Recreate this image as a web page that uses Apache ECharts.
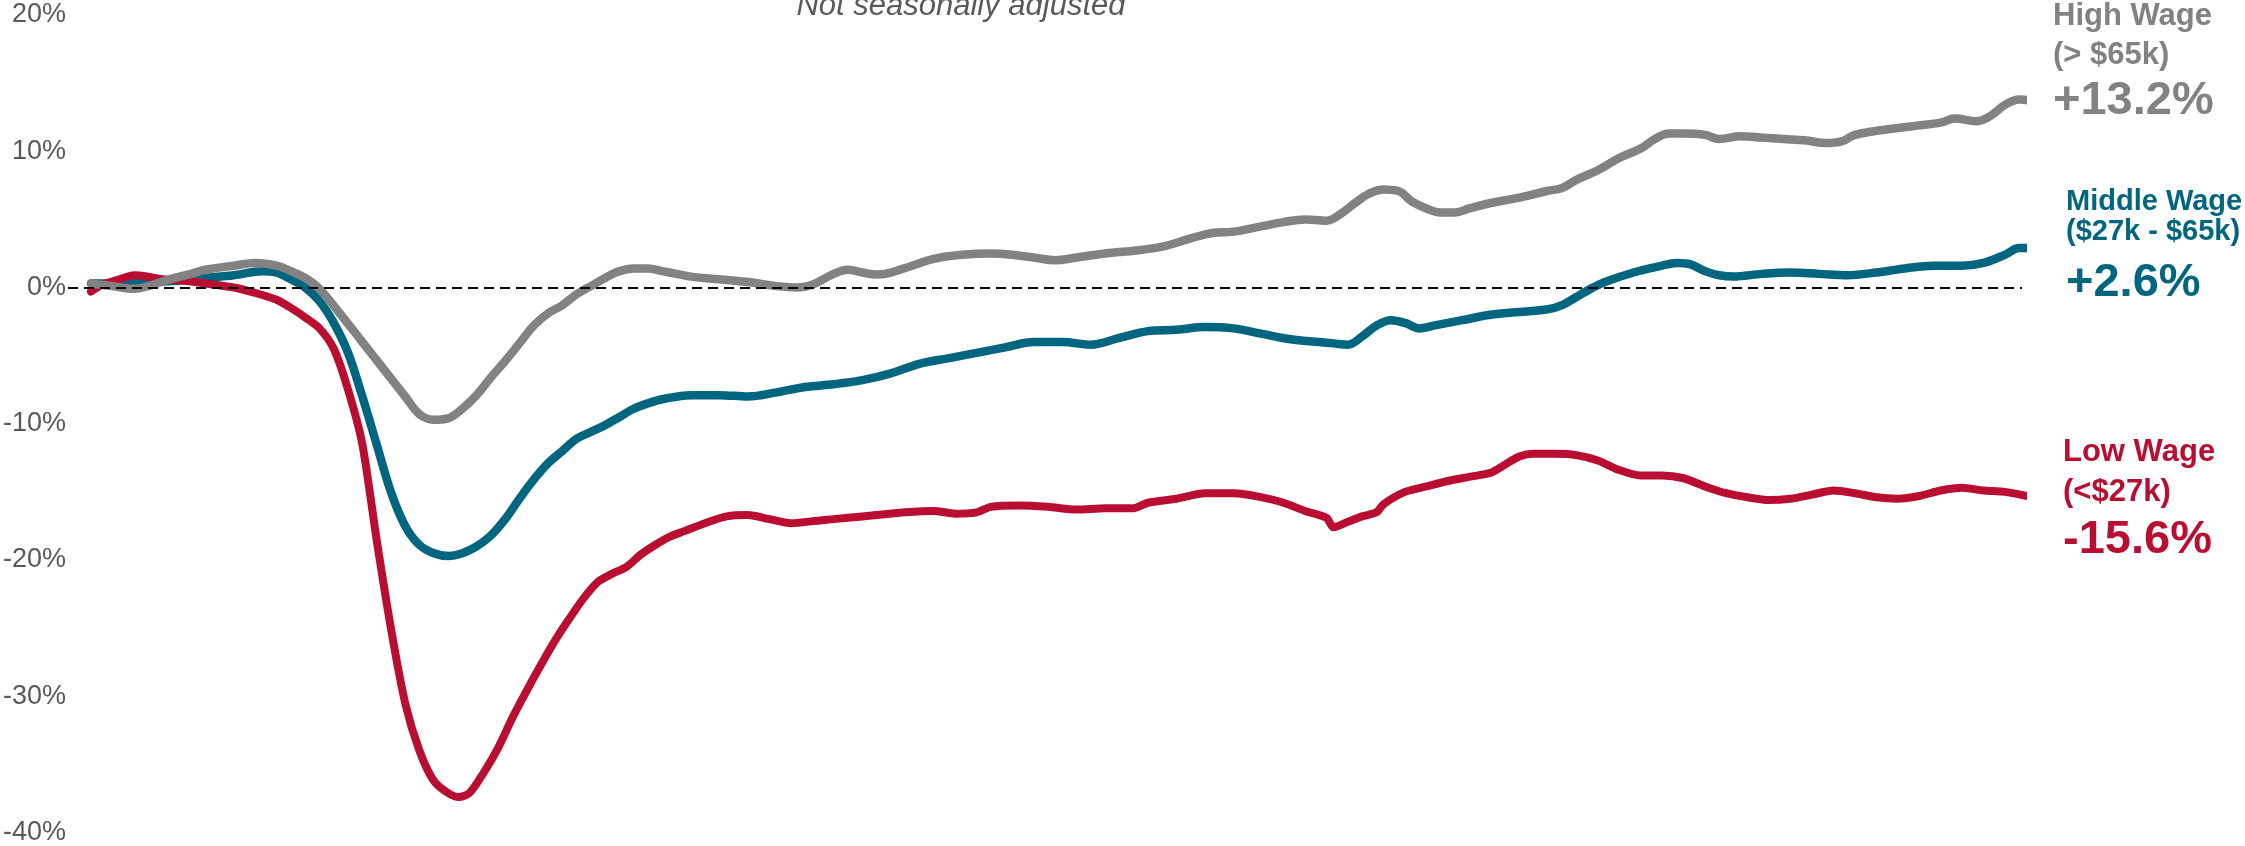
<!DOCTYPE html>
<html>
<head>
<meta charset="utf-8">
<script src="https://cdn.jsdelivr.net/npm/echarts@6.0.0/dist/echarts.min.js"></script>
<style>
  html, body { margin: 0; padding: 0; background: #ffffff; }
  #chart { width: 2245px; height: 846px; }
</style>
</head>
<body>
<div id="chart"></div>
<script>
// Employment change relative to January 2020 (%), by wage group.
// x = days since the start of the series, y = percent change.
const highDays = [0,6,12,16,22,28,32,40,46,52,56,60,64,70,76,82,88,92,96,100,104,108,112,116,120,124,128,132,136,140,144,148,152,156,160,164,168,176,184,192,198,202,208,212,216,220,224,230,236,244,252,258,264,270,276,284,292,300,308,314,320,328,334,340,346,350,354,358,362,366,370,374,378,382,386,392,400,408,412,416,422,428,434,438,442,446,452,456,462,468,474,480,486,490,494,500,506,512,518,522,528,532,536,540,543,545];
const highValues = [0.3,0.1,-0.1,0.1,0.6,1.0,1.3,1.6,1.8,1.6,1.2,0.7,-0.1,-2.0,-4.0,-6.0,-8.0,-9.3,-9.7,-9.6,-8.9,-7.9,-6.6,-5.4,-4.1,-2.8,-1.9,-1.3,-0.5,0.1,0.7,1.2,1.4,1.4,1.2,1.0,0.8,0.6,0.4,0.1,0.0,0.2,1.0,1.3,1.1,0.95,1.1,1.6,2.1,2.4,2.5,2.4,2.2,2.0,2.2,2.5,2.7,3.0,3.6,4.0,4.1,4.5,4.8,5.0,4.9,5.4,6.2,6.9,7.2,7.1,6.3,5.8,5.5,5.5,5.8,6.2,6.6,7.1,7.3,7.9,8.6,9.5,10.2,10.9,11.3,11.3,11.2,10.9,11.1,11.0,10.9,10.8,10.6,10.7,11.2,11.5,11.7,11.9,12.1,12.4,12.2,12.6,13.4,13.8,13.7,13.2];

const midDays = [0,8,16,24,32,40,48,52,56,60,64,68,72,76,80,84,88,92,96,100,104,108,112,116,120,124,128,132,136,140,144,148,152,156,160,168,176,184,192,200,208,216,224,232,240,248,256,264,272,280,288,296,304,312,320,328,336,344,348,352,356,360,364,368,372,376,384,392,400,408,412,416,420,424,432,440,444,448,452,456,460,468,476,484,492,500,508,516,524,530,536,540,543,545];
const midValues = [0.3,0.3,0.4,0.5,0.7,0.9,1.2,1.1,0.6,0.0,-1.0,-2.6,-4.8,-8.0,-11.5,-15.0,-17.5,-18.9,-19.5,-19.7,-19.5,-19.0,-18.2,-17.0,-15.5,-14.1,-12.9,-12.0,-11.1,-10.6,-10.1,-9.5,-8.9,-8.5,-8.2,-7.9,-7.9,-8.0,-7.7,-7.3,-7.1,-6.8,-6.3,-5.6,-5.2,-4.8,-4.4,-4.0,-4.0,-4.2,-3.7,-3.2,-3.1,-2.9,-3.0,-3.4,-3.8,-4.0,-4.1,-4.2,-3.6,-2.8,-2.4,-2.6,-3.0,-2.8,-2.4,-2.0,-1.8,-1.6,-1.3,-0.7,-0.1,0.4,1.1,1.6,1.8,1.7,1.2,0.9,0.8,1.0,1.1,1.0,0.9,1.1,1.4,1.6,1.6,1.8,2.4,2.9,2.9,2.6];

const lowDays = [0,3,8,12,16,20,26,32,40,46,52,56,60,64,68,72,76,80,84,88,92,96,100,103,106,110,114,118,122,126,130,134,138,142,146,150,154,158,162,166,172,178,184,190,196,204,212,220,228,236,242,248,252,260,268,276,284,292,296,304,312,320,328,334,340,346,348,352,356,360,362,368,374,380,386,392,396,400,404,410,416,422,428,434,440,446,452,458,464,470,476,482,488,494,500,506,512,518,524,530,536,542,545];
const lowValues = [-0.3,0.2,0.6,0.9,0.8,0.6,0.5,0.3,0.0,-0.4,-0.9,-1.5,-2.2,-3.0,-4.5,-7.5,-11.5,-18.5,-25.0,-30.5,-34.0,-36.2,-37.1,-37.4,-37.1,-35.6,-33.8,-31.6,-29.6,-27.7,-25.9,-24.3,-22.8,-21.6,-21.0,-20.5,-19.6,-18.9,-18.3,-17.9,-17.3,-16.8,-16.7,-17.0,-17.3,-17.1,-16.9,-16.7,-16.5,-16.4,-16.6,-16.5,-16.1,-16.0,-16.1,-16.3,-16.2,-16.2,-15.8,-15.5,-15.1,-15.1,-15.4,-15.8,-16.4,-16.9,-17.6,-17.2,-16.8,-16.5,-15.9,-15.0,-14.6,-14.2,-13.9,-13.6,-13.0,-12.4,-12.2,-12.2,-12.3,-12.7,-13.4,-13.8,-13.8,-14.0,-14.6,-15.1,-15.4,-15.6,-15.5,-15.2,-14.9,-15.1,-15.4,-15.5,-15.3,-14.9,-14.7,-14.9,-15.0,-15.3,-15.6];

const groupNames = ['High Wage', 'Middle Wage', 'Low Wage'];
const groupBands = ['(> $65k)', '($27k - $65k)', '(<$27k)'];
const yTickValues = [-40, -30, -20, -10, 0, 10, 20];
const subtitle = 'Not seasonally adjusted';

const zip = (xs, ys) => xs.map((x, i) => [x, ys[i]]);
const fmtChange = v => (v > 0 ? '+' : '') + v.toFixed(1) + '%';

const FONT = '"Liberation Sans", Arial, Helvetica, sans-serif';
const COLORS = { high: '#828282', mid: '#00667f', low: '#b90e31' };

const seriesDefs = [
  { key: 'mid',  idx: 1, days: midDays,  values: midValues,  width: 8.5, smooth: 0.35 },
  { key: 'low',  idx: 2, days: lowDays,  values: lowValues,  width: 8,   smooth: 0.25 },
  { key: 'high', idx: 0, days: highDays, values: highValues, width: 8.5, smooth: 0.4 }
];

// End-of-line annotation blocks (name, wage band, latest change)
const labelLayout = {
  high: { x: 2053, name: 16,  band: 55,  value: 101, nameSize: 31, valueSize: 47 },
  mid:  { x: 2066, name: 202, band: 232, value: 283, nameSize: 29, valueSize: 47 },
  low:  { x: 2063, name: 452, band: 492, value: 540, nameSize: 31, valueSize: 47 }
};

const graphics = [{
  type: 'text',
  x: 961, y: 6,
  style: {
    text: subtitle,
    font: 'italic 31px ' + FONT,
    fill: '#595959',
    align: 'center', verticalAlign: 'middle',
    textAlign: 'center', textVerticalAlign: 'middle'
  }
}];

seriesDefs.forEach(d => {
  const L = labelLayout[d.key];
  const color = COLORS[d.key];
  const last = d.values[d.values.length - 1];
  const rows = [
    { text: groupNames[d.idx], y: L.name, size: L.nameSize },
    { text: groupBands[d.idx], y: L.band, size: L.nameSize },
    { text: fmtChange(last),   y: L.value, size: L.valueSize }
  ];
  rows.forEach(r => graphics.push({
    type: 'text',
    x: L.x, y: r.y,
    style: {
      text: r.text,
      font: 'bold ' + r.size + 'px ' + FONT,
      fill: color,
      align: 'left', verticalAlign: 'middle',
      textAlign: 'left', textVerticalAlign: 'middle'
    }
  }));
});

const series = seriesDefs.map((d, i) => {
  const s = {
    name: groupNames[d.idx],
    type: 'line',
    data: zip(d.days, d.values),
    showSymbol: false,
    symbol: 'none',
    smooth: d.smooth,
    clip: false,
    silent: true,
    z: 2 + i,
    lineStyle: { color: COLORS[d.key], width: d.width, cap: 'round', join: 'round' }
  };
  if (i === seriesDefs.length - 1) {
    s.markLine = {
      silent: true,
      symbol: 'none',
      label: { show: false },
      lineStyle: { color: '#000000', width: 2, type: [10, 6] },
      emphasis: { disabled: true },
      data: [{ yAxis: 0 }]
    };
  }
  return s;
});

const chart = echarts.init(document.getElementById('chart'), null, { renderer: 'canvas' });
chart.setOption({
  animation: false,
  backgroundColor: '#ffffff',
  grid: { left: 63, right: 223, top: 15, bottom: 13, containLabel: false },
  xAxis: {
    type: 'value',
    min: -6.42,
    max: 540.8,
    show: false
  },
  yAxis: {
    type: 'value',
    min: yTickValues[0],
    max: yTickValues[yTickValues.length - 1],
    interval: yTickValues[1] - yTickValues[0],
    axisLine: { show: false },
    axisTick: { show: false },
    splitLine: { show: false },
    axisLabel: {
      margin: 2,
      color: '#595959',
      fontSize: 27,
      fontFamily: FONT,
      formatter: v => v + '%'
    }
  },
  graphic: graphics,
  series: series
});
</script>
</body>
</html>
